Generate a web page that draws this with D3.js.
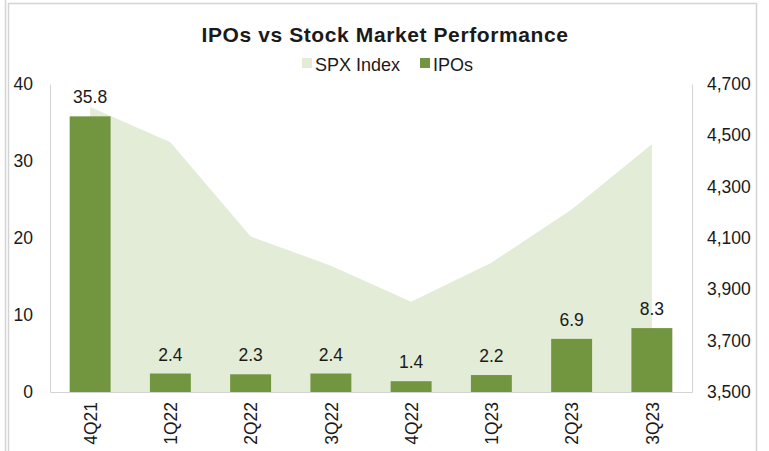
<!DOCTYPE html>
<html>
<head>
<meta charset="utf-8">
<script src="https://cdn.jsdelivr.net/npm/d3@7"></script>
<style>
  body { margin: 0; background: #fff; }
  text { font-family: "Liberation Sans", Arial, sans-serif; fill: #1a1a1a; }
</style>
</head>
<body>
<svg id="chart" width="769" height="451"></svg>
<script>
// data
var quarters = ["4Q21", "1Q22", "2Q22", "3Q22", "4Q22", "1Q23", "2Q23", "3Q23"];
var ipos = [35.8, 2.4, 2.3, 2.4, 1.4, 2.2, 6.9, 8.3];
var spx = [4610, 4473, 4106, 3992, 3852, 4004, 4211, 4465];
var leftTicks = [0, 10, 20, 30, 40];
var rightTicks = [3500, 3700, 3900, 4100, 4300, 4500, 4700];

var barColor = "#729540";
var areaColor = "#e3ecd6";
var frameColor = "#d4d4d4";

var margin = {top: 84, right: 77, bottom: 59, left: 50},
    width = 769 - margin.left - margin.right,
    height = 451 - margin.top - margin.bottom;

var svg = d3.select("#chart");

// outer chart frame
svg.append("line").attr("x1", 5.5).attr("x2", 5.5).attr("y1", 0).attr("y2", 451)
    .attr("stroke", frameColor).attr("stroke-width", 1.5);
svg.append("path").attr("d", "M8.5,451V3.5H756.5V451")
    .attr("fill", "none").attr("stroke", frameColor).attr("stroke-width", 1.5);

var g = svg.append("g")
    .attr("transform", "translate(" + margin.left + "," + margin.top + ")");

var x = d3.scaleBand().domain(quarters).range([0, width]).paddingInner(0.49).paddingOuter(0.245);
var xc = d3.scalePoint().domain(quarters).range([0, width]).padding(0.5);
var y = d3.scaleLinear().domain([0, 40]).range([height, 0]);
var y2 = d3.scaleLinear().domain([3500, 4700]).range([height, 0]);

// SPX area
var area = d3.area()
    .x(function(d, i) { return xc(quarters[i]); })
    .y0(height)
    .y1(function(d) { return y2(d); });
g.append("path").datum(spx).attr("d", area).attr("fill", areaColor);

// bars
g.selectAll(".bar").data(ipos).enter().append("rect")
    .attr("class", "bar")
    .attr("x", function(d, i) { return x(quarters[i]); })
    .attr("width", x.bandwidth())
    .attr("y", function(d) { return y(d); })
    .attr("height", function(d) { return height - y(d); })
    .attr("fill", barColor);

g.selectAll(".lbl").data(ipos).enter().append("text")
    .attr("class", "lbl")
    .attr("x", function(d, i) { return xc(quarters[i]); })
    .attr("y", function(d) { return y(d) - 13; })
    .attr("text-anchor", "middle")
    .style("font-size", "17.5px")
    .text(function(d) { return d3.format(".1f")(d); });

// axes
var leftAxis = d3.axisLeft(y).tickValues(leftTicks).tickSize(0).tickPadding(17);
var la = g.append("g").call(leftAxis);
la.select(".domain").attr("stroke", frameColor);
la.selectAll("text").style("font-size", "17.5px").attr("fill", "#1a1a1a");

var rightAxis = d3.axisRight(y2).tickValues(rightTicks).tickSize(0).tickPadding(15)
    .tickFormat(d3.format(","));
var ra = g.append("g").attr("transform", "translate(" + width + ",0)").call(rightAxis);
ra.select(".domain").attr("stroke", frameColor);
ra.selectAll("text").style("font-size", "17.5px").attr("fill", "#1a1a1a");

var bottomAxis = d3.axisBottom(xc).tickSize(0).tickPadding(0);
var ba = g.append("g").attr("transform", "translate(0," + height + ")").call(bottomAxis);
ba.select(".domain").attr("stroke", frameColor);
ba.selectAll("text")
    .style("font-size", "17.5px")
    .attr("fill", "#1a1a1a")
    .attr("text-anchor", "end")
    .attr("transform", "rotate(-90)")
    .attr("x", -10)
    .attr("y", 0)
    .attr("dy", "0.35em");

// title
svg.append("text")
    .attr("x", 385).attr("y", 42)
    .attr("text-anchor", "middle")
    .style("font-size", "21px")
    .style("font-weight", "bold")
    .style("letter-spacing", "0.6px")
    .text("IPOs vs Stock Market Performance");

// legend
var legendItems = [
  {name: "SPX Index", color: areaColor, x: 302},
  {name: "IPOs", color: barColor, x: 420}
];
var legend = svg.selectAll(".legend").data(legendItems).enter().append("g")
    .attr("class", "legend")
    .attr("transform", function(d) { return "translate(" + d.x + ",58)"; });
legend.append("rect").attr("width", 10).attr("height", 10).attr("fill", function(d) { return d.color; });
legend.append("text").attr("x", 13).attr("y", 13)
    .style("font-size", "18px")
    .text(function(d) { return d.name; });
</script>
</body>
</html>
